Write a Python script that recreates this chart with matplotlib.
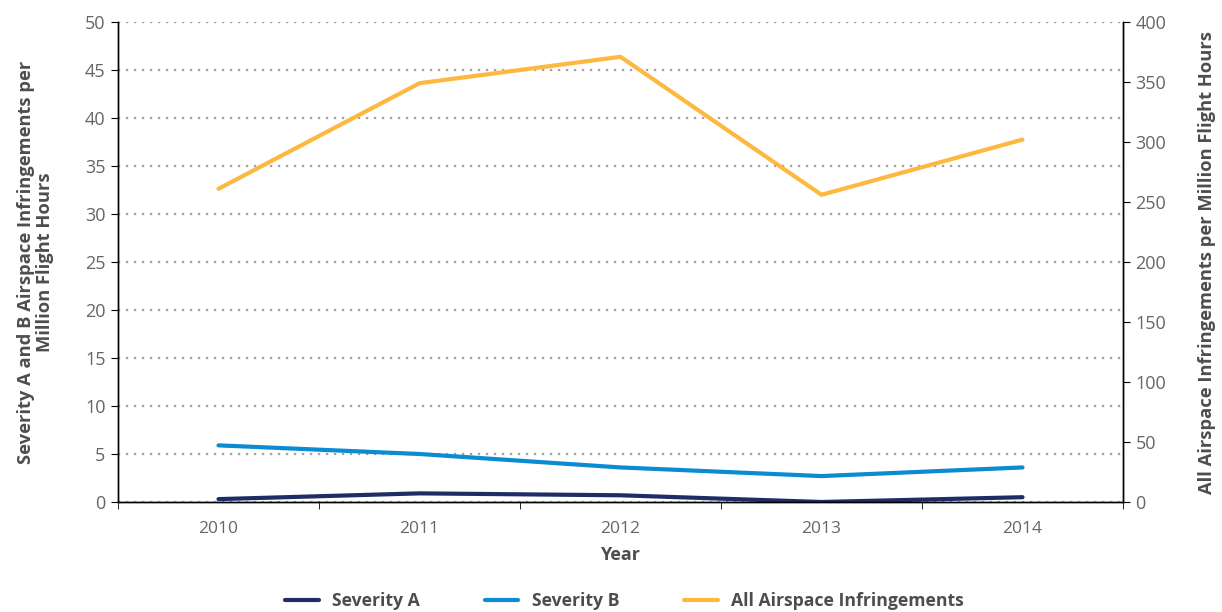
import numpy as np
import matplotlib.pyplot as plt

plt.rcParams['font.family'] = ['Open Sans', 'DejaVu Sans']

# Data
years = ['2010', '2011', '2012', '2013', '2014']
severity_a = [0.3, 0.9, 0.7, 0.0, 0.5]
severity_b = [5.9, 5.0, 3.6, 2.7, 3.6]
all_infringements = [261, 349, 371, 256, 302]

c_a = '#1f2c66'
c_b = '#0a8bd2'
c_all = '#fdb840'
tick_col = '#666666'
label_col = '#4d4d4d'

fig = plt.figure(figsize=(12.22, 6.12), dpi=100)
ax = fig.add_axes([118 / 1222, 1 - 502 / 612, 1005 / 1222, 480 / 612])
ax2 = ax.twinx()

x = np.arange(len(years))
l1, = ax.plot(x, severity_a, color=c_a, lw=3, solid_capstyle='round', label='Severity A')
l2, = ax.plot(x, severity_b, color=c_b, lw=3, solid_capstyle='round', label='Severity B')
l3, = ax2.plot(x, all_infringements, color=c_all, lw=3, solid_capstyle='round',
               label='All Airspace Infringements')

ax.set_xlim(-0.5, len(years) - 0.5)
ax.set_ylim(0, 50)
ax.set_yticks(np.arange(0, 51, 5))
ax2.set_ylim(0, 400)
ax2.set_yticks(np.arange(0, 401, 50))

ax.set_xticks(x)
ax.set_xticklabels(years)
ax.set_xticks(np.arange(-0.5, len(years), 1), minor=True)
ax.tick_params(axis='x', which='major', length=0, pad=14, labelsize=12.5, labelcolor=tick_col)
ax.tick_params(axis='x', which='minor', length=5, color='black', direction='out')
ax.tick_params(axis='y', length=5, labelsize=13, labelcolor=tick_col, pad=4)
ax2.tick_params(axis='y', length=5, labelsize=13, labelcolor=tick_col, pad=4)

ax.yaxis.grid(True, linestyle=(0, (1, 2.6)), color='#a0a0a0', lw=1.6)
ax.set_axisbelow(True)

for a in (ax, ax2):
    a.spines['top'].set_visible(False)
    for s in ('left', 'right', 'bottom'):
        a.spines[s].set_color('black')
        a.spines[s].set_linewidth(1)

ax.set_xlabel('Year', fontsize=13, fontweight='bold', color=label_col, labelpad=6)
ax.set_ylabel('Severity A and B Airspace Infringements per\nMillion Flight Hours',
              fontsize=13.2, fontweight='bold', color=label_col, labelpad=22,
              linespacing=1.1)
ax2.set_ylabel('All Airspace Infringements per Million Flight Hours',
               fontsize=13.2, fontweight='bold', color=label_col, labelpad=23)

fig.legend(handles=[l1, l2, l3], loc='center', bbox_to_anchor=(0.511, 1 - 601 / 612),
           ncol=3, frameon=False, handlelength=1.9, handletextpad=0.75,
           columnspacing=3.7, prop={'weight': 'bold', 'size': 12.7})
for t in fig.legends[0].get_texts():
    t.set_color(label_col)

fig.savefig('out.png', dpi=100)
